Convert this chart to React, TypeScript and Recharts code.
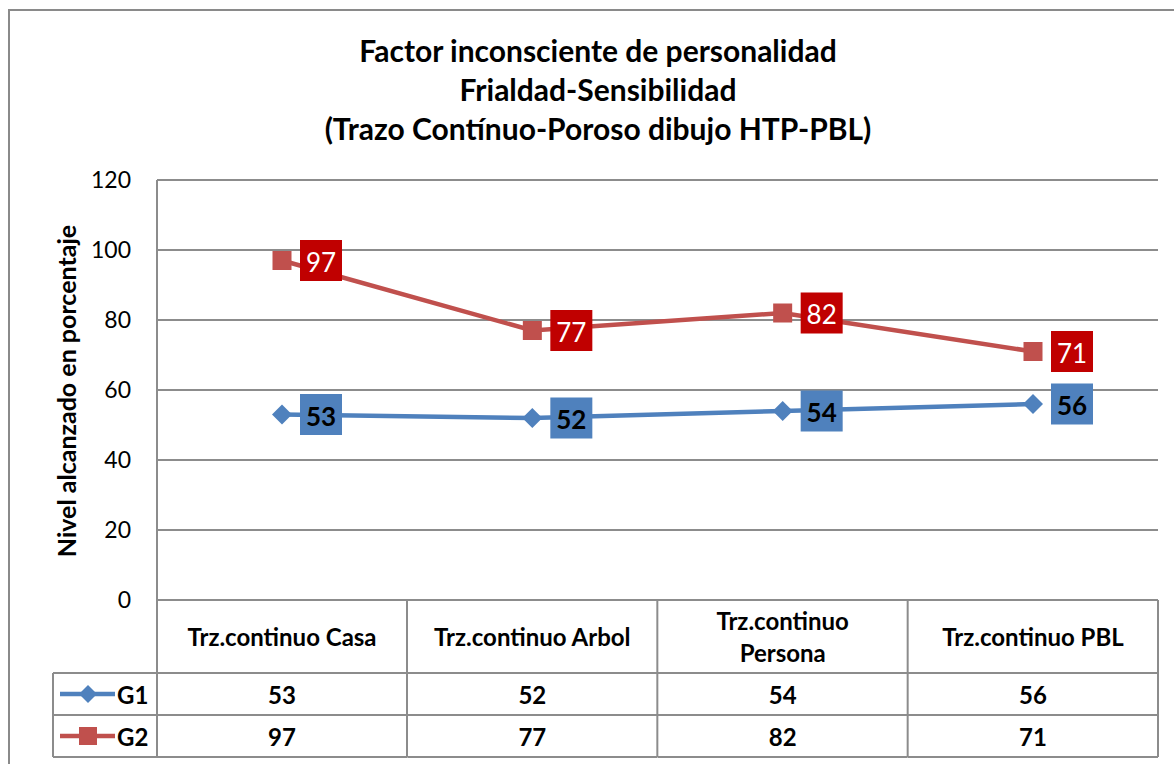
import React from 'react'
import {
  CartesianGrid,
  LabelList,
  Line,
  LineChart,
  XAxis,
  YAxis,
} from 'recharts'

const categories = [
  'Trz.continuo Casa',
  'Trz.continuo Arbol',
  'Trz.continuo Persona',
  'Trz.continuo PBL',
]
const g1Values = [53, 52, 54, 56]
const g2Values = [97, 77, 82, 71]
const yTicks = [0, 20, 40, 60, 80, 100, 120]
const titleLines = [
  'Factor inconsciente de personalidad',
  'Frialdad-Sensibilidad',
  '(Trazo Contínuo-Poroso dibujo HTP-PBL)',
]
const yLabel = 'Nivel alcanzado en porcentaje'

const data = categories.map((name, i) => ({
  name,
  G1: g1Values[i],
  G2: g2Values[i],
}))

const FONT = 'Lato, "Open Sans", sans-serif'
const BLUE = '#4f81bd'
const RED = '#c0504d'
const GRID = '#8c8c8c'
const HALF_COL = 125
const ROW_H = [73, 42, 42]

const Diamond = ({ cx, cy, color, size = 10 }: any) => (
  <polygon
    points={`${cx},${cy - size} ${cx + size},${cy} ${cx},${cy + size} ${cx - size},${cy}`}
    fill={color}
  />
)
const Square = ({ cx, cy, color, size = 9.5 }: any) => (
  <rect x={cx - size} y={cy - size} width={size * 2} height={size * 2} fill={color} />
)

const boxLabel = (bg: string, color: string, weight: number) => (props: any) => {
  const { x, y, value } = props
  const cx = x + 39
  return (
    <g>
      <rect x={cx - 21} y={y - 20.5} width={42} height={41} fill={bg} />
      <text
        x={cx}
        y={y + 1}
        textAnchor="middle"
        dominantBaseline="central"
        fontFamily={FONT}
        fontSize={26}
        fontWeight={weight}
        fill={color}
      >
        {value}
      </text>
    </g>
  )
}

// table under the plot, one column per tick
const TableTick = ({ x, y, payload, index }: any) => {
  const name: string = payload.value
  const top = y
  const r1 = top + ROW_H[0]
  const r2 = r1 + ROW_H[1]
  const r3 = r2 + ROW_H[2]
  const words = name.split(' ')
  const lines = name.length > 18 ? [words[0], words.slice(1).join(' ')] : [name]
  const textProps = {
    fontFamily: FONT,
    fontSize: 24,
    fontWeight: 700,
    fill: '#000',
    textAnchor: 'middle' as const,
    dominantBaseline: 'central' as const,
  }
  const legendLeft = x - HALF_COL - 104
  return (
    <g>
      <line x1={x + HALF_COL} y1={top} x2={x + HALF_COL} y2={r3} stroke={GRID} strokeWidth={2} />
      {index === 0 && (
        <g>
          <line x1={x - HALF_COL} y1={top} x2={x - HALF_COL} y2={r3} stroke={GRID} strokeWidth={2} />
          <line x1={legendLeft} y1={r1} x2={legendLeft} y2={r3} stroke={GRID} strokeWidth={2} />
          <line x1={legendLeft} y1={r1} x2={x - HALF_COL} y2={r1} stroke={GRID} strokeWidth={2} />
          <line x1={legendLeft} y1={r2} x2={x - HALF_COL} y2={r2} stroke={GRID} strokeWidth={2} />
          <line x1={legendLeft} y1={r3} x2={x - HALF_COL} y2={r3} stroke={GRID} strokeWidth={2} />
          <line x1={legendLeft + 7} y1={(r1 + r2) / 2} x2={legendLeft + 62} y2={(r1 + r2) / 2} stroke={BLUE} strokeWidth={4.5} />
          <Diamond cx={legendLeft + 35} cy={(r1 + r2) / 2} color={BLUE} size={9} />
          <text {...textProps} textAnchor="start" x={legendLeft + 64} y={(r1 + r2) / 2}>G1</text>
          <line x1={legendLeft + 7} y1={(r2 + r3) / 2} x2={legendLeft + 62} y2={(r2 + r3) / 2} stroke={RED} strokeWidth={4.5} />
          <Square cx={legendLeft + 35} cy={(r2 + r3) / 2} color={RED} size={9} />
          <text {...textProps} textAnchor="start" x={legendLeft + 64} y={(r2 + r3) / 2}>G2</text>
        </g>
      )}
      <line x1={x - HALF_COL} y1={r1} x2={x + HALF_COL} y2={r1} stroke={GRID} strokeWidth={2} />
      <line x1={x - HALF_COL} y1={r2} x2={x + HALF_COL} y2={r2} stroke={GRID} strokeWidth={2} />
      <line x1={x - HALF_COL} y1={r3} x2={x + HALF_COL} y2={r3} stroke={GRID} strokeWidth={2} />
      {lines.map((l, i) => (
        <text
          key={i}
          {...textProps}
          x={x}
          y={(top + r1) / 2 + (i - (lines.length - 1) / 2) * 32}
        >
          {l}
        </text>
      ))}
      <text {...textProps} x={x} y={(r1 + r2) / 2}>{g1Values[index]}</text>
      <text {...textProps} x={x} y={(r2 + r3) / 2}>{g2Values[index]}</text>
    </g>
  )
}

const YLabel = ({ viewBox }: any) => {
  const cx = 66
  const cy = viewBox.y + viewBox.height / 2 + 1
  return (
    <text
      x={cx}
      y={cy}
      transform={`rotate(-90 ${cx} ${cy})`}
      textAnchor="middle"
      dominantBaseline="central"
      fontFamily={FONT}
      fontSize={25}
      fontWeight={700}
      fill="#000"
    >
      {yLabel}
    </text>
  )
}

const App = () => {
  return (
    <div style={{ position: 'fixed', left: 0, top: 0, width: 1174, height: 764, background: '#fff', overflow: 'hidden' }}>
      <div
        style={{
          position: 'absolute',
          left: 8,
          top: 9,
          width: 1200,
          height: 800,
          border: '2px solid #8a8a8a',
          boxSizing: 'border-box',
        }}
      />
      <div
        style={{
          position: 'absolute',
          left: 0,
          top: 31,
          width: 1196,
          textAlign: 'center',
          fontFamily: FONT,
          fontWeight: 700,
          fontSize: 30,
          lineHeight: '39px',
          color: '#000',
        }}
      >
        {titleLines.map((t) => (
          <div key={t}>{t}</div>
        ))}
      </div>
      <LineChart
        width={1174}
        height={764}
        data={data}
        margin={{ top: 180, right: 16, left: 0, bottom: 0 }}
        style={{ position: 'absolute', left: 0, top: 0 }}
      >
        <CartesianGrid vertical={false} stroke={GRID} strokeWidth={2} />
        <XAxis
          dataKey="name"
          height={164}
          padding={{ left: 125, right: 125 }}
          axisLine={false}
          tickLine={false}
          tickSize={0}
          tickMargin={0}
          interval={0}
          tick={<TableTick />}
        />
        <YAxis
          width={157}
          domain={[0, 120]}
          ticks={yTicks}
          interval={0}
          axisLine={{ stroke: GRID, strokeWidth: 2 }}
          tickLine={false}
          tickMargin={20}
          tick={{ fontFamily: FONT, fontSize: 23, fill: '#000' }}
          label={<YLabel />}
        />
        <Line
          dataKey="G1"
          stroke={BLUE}
          strokeWidth={4.5}
          dot={(p: any) => <Diamond key={p.index} cx={p.cx} cy={p.cy} color={BLUE} size={10} />}
          isAnimationActive={false}
        >
          <LabelList dataKey="G1" content={boxLabel(BLUE, '#000', 700)} />
        </Line>
        <Line
          dataKey="G2"
          stroke={RED}
          strokeWidth={4.5}
          dot={(p: any) => <Square key={p.index} cx={p.cx} cy={p.cy} color={RED} size={9.5} />}
          isAnimationActive={false}
        >
          <LabelList dataKey="G2" content={boxLabel('#c00000', '#fff', 400)} />
        </Line>
      </LineChart>
    </div>
  )
}

export default App
